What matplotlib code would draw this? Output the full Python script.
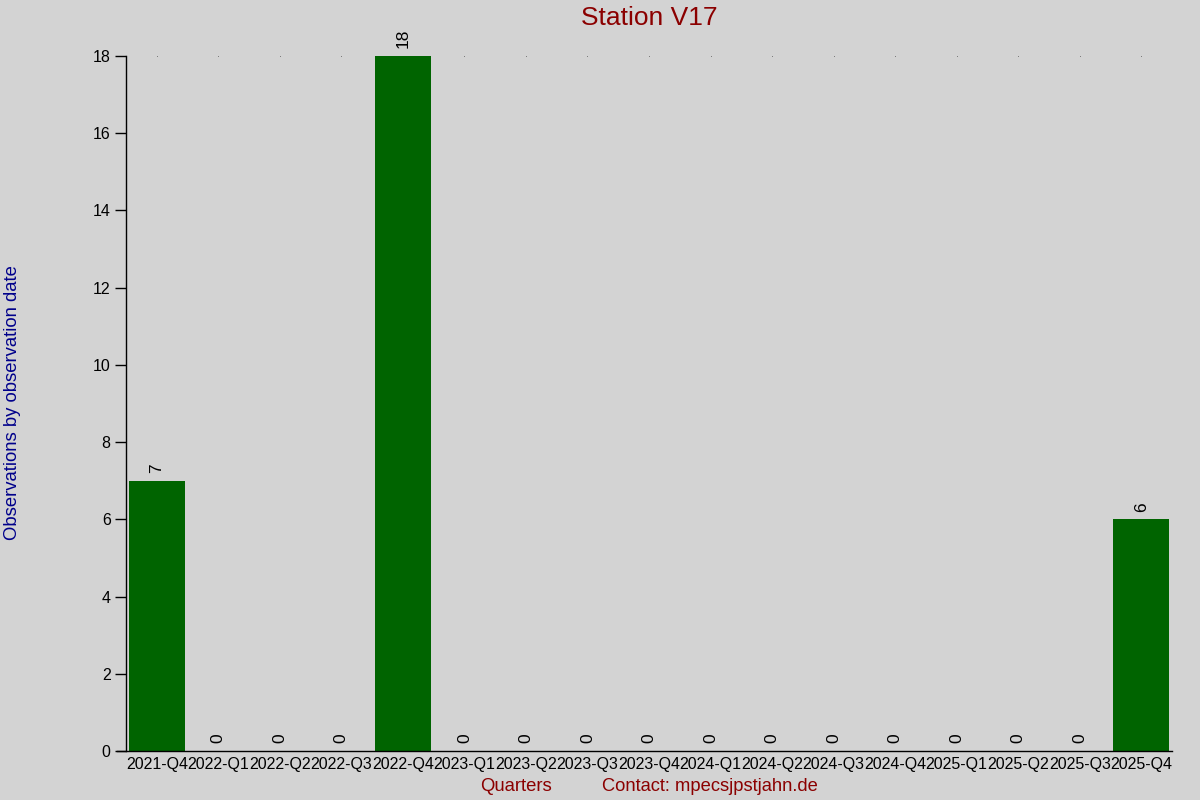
import matplotlib
matplotlib.use("Agg")
import matplotlib.pyplot as plt

quarters = ["2021-Q4", "2022-Q1", "2022-Q2", "2022-Q3", "2022-Q4",
            "2023-Q1", "2023-Q2", "2023-Q3", "2023-Q4", "2024-Q1",
            "2024-Q2", "2024-Q3", "2024-Q4", "2025-Q1", "2025-Q2",
            "2025-Q3", "2025-Q4"]
counts = [7, 0, 0, 0, 18, 0, 0, 0, 0, 0, 0, 0, 0, 0, 0, 0, 6]
y_ticks = [0, 2, 4, 6, 8, 10, 12, 14, 16, 18]

plt.rcParams["font.family"] = ["Liberation Sans", "DejaVu Sans"]

bg = "#d3d3d3"
fig = plt.figure(figsize=(12, 8), dpi=100, facecolor=bg)
ax = fig.add_axes([0.105, 0.06125, 0.8717, 0.86875])
ax.set_facecolor(bg)

x = list(range(len(quarters)))
ax.bar(x, counts, width=0.91, color="#006400", zorder=2)

# tiny dots along the top, one per quarter
ax.scatter(x, [max(y_ticks)] * len(x), s=0.15, color="black", clip_on=False,
           zorder=1, linewidths=0)

for xi, v in zip(x, counts):
    ax.annotate(str(v), (xi, v), xytext=(0, 5.5), textcoords="offset points",
                rotation=90, ha="center", va="bottom", fontsize=12.5)

ax.set_xlim(-0.5, 16.5)
ax.set_ylim(0, 18)
ax.set_xticks(x)
ax.set_xticklabels(quarters, fontsize=11.5)
ax.set_yticks(y_ticks)
ax.set_yticklabels([str(t) for t in y_ticks], fontsize=11.5)
ax.tick_params(axis="x", length=0, pad=4)
ax.tick_params(axis="y", length=8, width=1, pad=3)

for s in ["top", "right"]:
    ax.spines[s].set_visible(False)
ax.spines["left"].set_linewidth(1)
ax.spines["bottom"].set_linewidth(1)
ax.spines["bottom"].set_bounds(-0.64, 16.5)

fig.text(0.541, 0.978, "Station V17", color="darkred", fontsize=19,
         ha="center", va="center")
fig.text(0.0105, 0.497, "Observations by observation date", color="darkblue",
         fontsize=13.3, rotation=90, ha="center", va="center")
fig.text(0.43, 0.017, "Quarters", color="darkred", fontsize=13.3,
         ha="center", va="center")
fig.text(0.5915, 0.017, "Contact: mpecsjpstjahn.de", color="darkred", fontsize=13.2,
         ha="center", va="center")

fig.savefig("out.png", dpi=100, facecolor=bg)
